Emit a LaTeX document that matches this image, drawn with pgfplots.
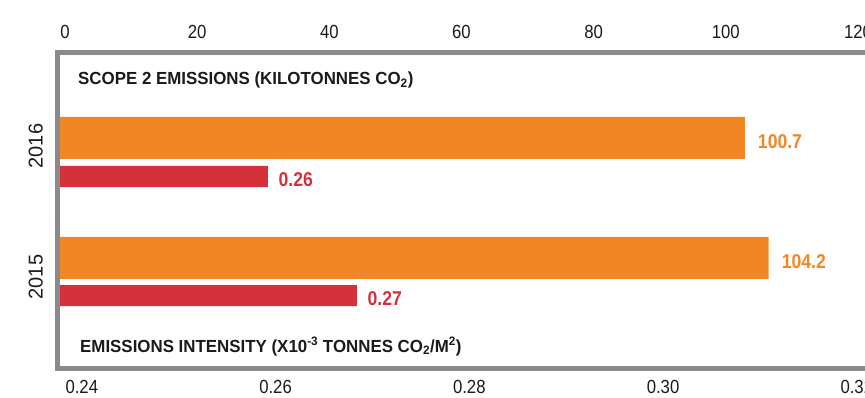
\documentclass[border=0pt]{standalone}
\usepackage{fontspec}
\setmainfont{Liberation Sans}
\newfontfamily\condfont{Liberation Sans}[FakeStretch=0.88]
\newfontfamily\titlefam{Liberation Sans}[FakeStretch=0.965]
\usepackage{pgfplots}
\pgfplotsset{compat=1.18}
\definecolor{barorange}{RGB}{243,134,36}
\definecolor{barred}{RGB}{211,49,60}
\definecolor{framegray}{RGB}{138,138,142}
\definecolor{txt}{RGB}{26,26,26}
\begin{document}
\begin{tikzpicture}[x=1pt,y=1pt]
\useasboundingbox (0,0) rectangle (865,397);
\clip (0,0) rectangle (865,397);

% orange bars: Scope 2 emissions (kilotonnes CO2)
\begin{axis}[
  at={(60pt,28.5pt)}, anchor=south west, scale only axis,
  width=805pt, height=316pt,
  xmin=0, xmax=118.38, ymin=28.5, ymax=344.5,
  hide axis, xbar, bar width=42pt, clip=false,
  point meta=x,
  nodes near coords={\pgfmathprintnumber[fixed,fixed zerofill,precision=1,assume math mode=true]{\pgfplotspointmeta}},
  nodes near coords style={anchor=west, inner sep=0pt, xshift=13pt, yshift=-3.5pt, font=\condfont\bfseries\fontsize{20}{24}\selectfont, text=barorange},
]
\addplot[fill=barorange, draw=none] coordinates {(100.7,259) (104.2,139)};
\end{axis}

% red bars: emissions intensity
\begin{axis}[
  at={(60pt,28.5pt)}, anchor=south west, scale only axis,
  width=805pt, height=316pt,
  xmin=0.23663, xmax=0.32708, ymin=28.5, ymax=344.5,
  hide axis, xbar, bar width=21pt,
  point meta=x,
  nodes near coords={\pgfmathprintnumber[fixed,fixed zerofill,precision=2,assume math mode=true]{\pgfplotspointmeta}},
  nodes near coords style={anchor=west, inner sep=0pt, xshift=10.5pt, yshift=-3.5pt, font=\condfont\bfseries\fontsize{20}{24}\selectfont, text=barred},
]
\addplot[fill=barred, draw=none] coordinates {(0.26,220.5) (0.27,101.5)};
\end{axis}

% frame, top ticks, year labels
\begin{axis}[
  at={(57.5pt,28.5pt)}, anchor=south west, scale only axis,
  width=842.5pt, height=316pt,
  xmin=-1.135, xmax=126.36, ymin=28.5, ymax=344.5,
  axis line style={draw=framegray, line width=5pt, line cap=rect},
  xtick={0,20,40,60,80,100,120}, xticklabel pos=top,
  ytick={120,251}, yticklabels={2015,2016},
  major tick length=0pt, tick style={draw=none},
  /pgf/number format/assume math mode=true,
  xticklabel style={font=\condfont\fontsize{19}{22}\selectfont, text=txt, anchor=south, inner sep=0pt},
  xticklabel shift=13.5pt,
  yticklabel style={font=\fontsize{20}{24}\selectfont, text=txt, rotate=90, anchor=south, inner sep=0pt},
  yticklabel shift=14.5pt,
]
\end{axis}

% bottom ticks
\begin{axis}[
  at={(57.5pt,28.5pt)}, anchor=south west, scale only axis,
  width=842.5pt, height=316pt,
  xmin=0.237492, xmax=0.32446, ymin=28.5, ymax=344.5,
  axis x line*=bottom, hide y axis, x axis line style={draw=none},
  xtick={0.24,0.26,0.28,0.30,0.32},
  major tick length=0pt, tick style={draw=none},
  /pgf/number format/assume math mode=true,
  xticklabel style={font=\condfont\fontsize{19}{22}\selectfont, text=txt, anchor=north, inner sep=0pt,
    /pgf/number format/.cd, fixed, fixed zerofill, precision=2},
  xticklabel shift=12pt,
]
\end{axis}

\node[anchor=base west, inner sep=0pt, text=txt, font=\titlefam\bfseries\fontsize{17.5}{21}\selectfont] at (78,312) {SCOPE 2 EMISSIONS (KILOTONNES CO\textsubscript{2})};
\node[anchor=base west, inner sep=0pt, text=txt, font=\titlefam\bfseries\fontsize{17.5}{21}\selectfont] at (80,45) {EMISSIONS INTENSITY (X10\textsuperscript{-3} TONNES CO\textsubscript{2}/M\textsuperscript{2})};
\end{tikzpicture}
\end{document}
